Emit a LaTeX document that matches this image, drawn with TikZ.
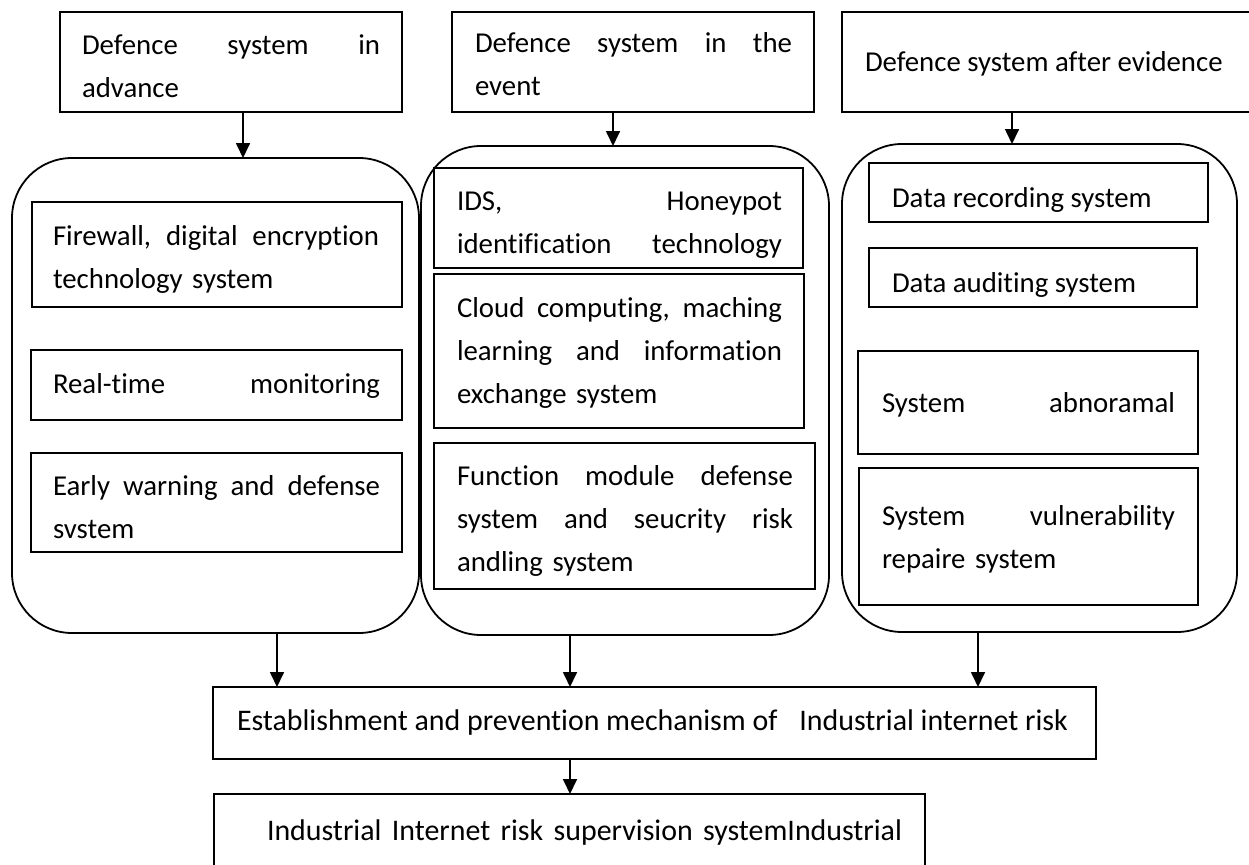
\documentclass[tikz,border=0pt]{standalone}
\usepackage{fontspec}
\setmainfont[Ligatures=NoCommon]{Carlito}
\usetikzlibrary{arrows.meta}
% a line of the given width with its words spread out to both edges
\newcommand\jl[2]{\leavevmode\hbox to #1pt{#2}}
\begin{document}
\begin{tikzpicture}[x=1pt,y=-1pt,
  box/.style={draw, line width=2.4pt, rectangle, inner sep=0pt, outer sep=0pt},
  panel/.style={draw, line width=1.8pt, rectangle, rounded corners=60pt, inner sep=0pt, outer sep=0pt},
  txt/.style={anchor=base west, inner sep=0pt, outer sep=0pt, font=\fontsize{28.8}{43}\selectfont},
  bigtxt/.style={txt, font=\fontsize{29.9}{43}\selectfont},
  arr/.style={line width=1.7pt, -{Triangle[length=15pt,width=14pt]}}]

\fill[white] (0,0) rectangle (1249,864);
\clip (0,0) rectangle (1249,864);

% stage headers
\node[box, minimum width=342, minimum height=100] (A) at (231,62) {};
\node[box, minimum width=362, minimum height=100] (B) at (633,62) {};
\node[box, minimum width=420, minimum height=100] (C) at (1052,62) {};

% rounded panels
\node[panel, minimum width=407, minimum height=475] (LC) at (215.5,395.5) {};
\node[panel, minimum width=408, minimum height=489] (MC) at (625,390.5) {};
\node[panel, minimum width=395, minimum height=488] (RC) at (1039.5,388) {};

% left panel items
\node[box, minimum width=370, minimum height=105] (L1) at (217,254.5) {};
\node[box, minimum width=371, minimum height=70]  (L2) at (216.5,385) {};
\node[box, minimum width=371, minimum height=99]  (L3) at (216.5,502.5) {};

% middle panel items
\node[box, minimum width=369, minimum height=100] (M1) at (618.5,218) {};
\node[box, minimum width=370, minimum height=154] (M2) at (619,351) {};
\node[box, minimum width=381, minimum height=146] (M3) at (624.5,516) {};

% right panel items
\node[box, minimum width=339, minimum height=59]  (R1) at (1038.5,192.5) {};
\node[box, minimum width=328, minimum height=59]  (R2) at (1033,277.5) {};
\node[box, minimum width=340, minimum height=103] (R3) at (1028,402.5) {};
\node[box, minimum width=339, minimum height=137] (R4) at (1028.5,536.5) {};

% bottom boxes
\node[box, minimum width=883, minimum height=72] (E) at (654.5,723) {};
\node[box, minimum width=711, minimum height=90] (S) at (569.5,839) {};

% texts
\node[txt, text width=298] (At) at (82,55) {\jl{298}{Defence\hfill system\hfill in}\\advance};
\node[txt, text width=317] (Bt) at (475,53) {\jl{317}{Defence\hfill system\hfill in\hfill the}\\event};
\node[txt] (Ct) at (865,72) {Defence system after evidence};

\node[txt, text width=326] (L1t) at (53,245) {\jl{326}{Firewall,\hfill digital\hfill encryption}\\technology system};
\node[txt, text width=327] (L2t) at (53,393) {\jl{327}{Real-time\hfill monitoring}};
\node[txt, text width=327] (L3t) at (53,495) {\jl{327}{Early\hfill warning\hfill and\hfill defense}\\svstem};

\node[txt, text width=325] (M1t) at (457,210) {\jl{325}{IDS,\hfill Honeypot}\\\jl{325}{identification\hfill technology}};
\node[txt, text width=325] (M2t) at (457,317) {\jl{325}{Cloud\hfill computing,\hfill maching}\\\jl{325}{learning\hfill and\hfill information}\\exchange system};
\node[txt, text width=336] (M3t) at (457,485) {\jl{336}{Function\hfill module\hfill defense}\\\jl{336}{system\hfill and\hfill seucrity\hfill risk}\\andling system};

\node[txt] (R1t) at (892,207) {Data recording system};
\node[txt] (R2t) at (892,292) {Data auditing system};
\node[txt, text width=293] (R3t) at (882,412) {\jl{293}{System\hfill abnoramal}};
\node[txt, text width=293] (R4t) at (882,525) {\jl{293}{System\hfill vulnerability}\\repaire system};

\node[bigtxt] (Et) at (237,730) {Establishment and prevention mechanism of\hspace{22pt}Industrial internet risk};
\node[bigtxt, text width=635] (St) at (267,840) {\jl{635}{Industrial\hfill Internet\hfill risk\hfill supervision\hfill systemIndustrial}};

% connector columns
\coordinate (xa) at (243,0);
\coordinate (xb) at (613,0);
\coordinate (xc) at (1012,0);
\coordinate (xd) at (277,0);
\coordinate (xe) at (570,0);
\coordinate (xf) at (978,0);

\draw[arr] (A.south -| xa) -- (LC.north -| xa);
\draw[arr] (B.south -| xb) -- (MC.north -| xb);
\draw[arr] (C.south -| xc) -- (RC.north -| xc);
\draw[arr] (LC.south -| xd) -- (E.north -| xd);
\draw[arr] (MC.south -| xe) -- (E.north -| xe);
\draw[arr] (RC.south -| xf) -- (E.north -| xf);
\draw[arr] (E.south -| xe) -- (S.north -| xe);
\end{tikzpicture}
\end{document}
